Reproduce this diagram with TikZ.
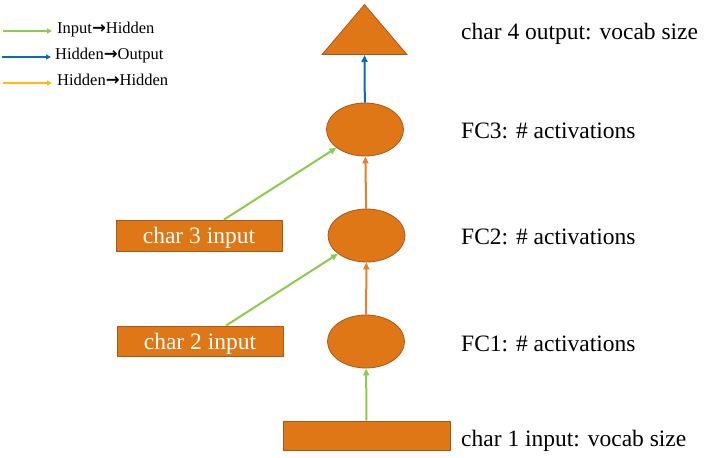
\documentclass[tikz,border=0pt]{standalone}
\usepackage{fontspec}
\setmainfont{Liberation Serif}
\newfontfamily\arrowfont{DejaVu Sans}
\usetikzlibrary{shapes.geometric,arrows.meta}
\definecolor{unitorange}{HTML}{E07716}
\definecolor{unitedge}{HTML}{A9581C}
\definecolor{inhid}{HTML}{8CCB4E}
\definecolor{hidout}{HTML}{0A6BBE}
\definecolor{hidhid}{HTML}{EB7D2E}
\definecolor{hidkey}{HTML}{FFBC0A}
\newcommand{\keyarrow}{{\arrowfont\bfseries →}}
\pgfdeclarelayer{bg}
\pgfsetlayers{bg,main}
\tikzset{
  unit/.style={ellipse, fill=unitorange, draw=unitedge, line width=0.8pt,
    minimum width=77pt, minimum height=53pt, inner sep=0pt},
  inbox/.style={rectangle, fill=unitorange, draw=unitedge, line width=0.8pt,
    minimum width=166pt, minimum height=30pt, inner sep=0pt, text=white,
    text depth=0pt, font=\fontsize{23.5pt}{26pt}\selectfont},
  outtri/.style={isosceles triangle, shape border rotate=90, isosceles triangle stretches,
    fill=unitorange, draw=unitedge, line width=0.8pt,
    minimum width=85pt, minimum height=50pt, inner sep=0pt},
  lab/.style={anchor=west, inner sep=0pt, font=\fontsize{23.5pt}{26pt}\selectfont},
  keylab/.style={anchor=base west, inner sep=0pt, font=\fontsize{16.5pt}{18pt}\selectfont},
  tip/.style={-{Triangle[length=7pt,width=6pt]}, line width=2pt},
  keytip/.style={-{Triangle[length=5pt,width=5pt]}, line width=1.8pt}
}
\begin{document}
\begin{tikzpicture}[x=1pt,y=-1pt]
        \useasboundingbox (0,0) rectangle (713,458);
        % legend
        \coordinate (k1a) at (3,31);
        \coordinate (k1b) at (52,31);
        \coordinate (k2a) at (2,57);
        \coordinate (k2b) at (51,57);
        \coordinate (k3a) at (3,83);
        \coordinate (k3b) at (52,83);
        \node (k1) [keylab] at (57,33) {Input\keyarrow Hidden};
        \node (k2) [keylab] at (55,59) {Hidden\keyarrow Output};
        \node (k3) [keylab] at (57,85) {Hidden\keyarrow Hidden};
        % network
        \node (c1) [inbox, minimum width=167pt, minimum height=29pt] at (366.5,435.5) {};
        \node (c2) [inbox] at (200,341) {char 2 input};
        \node (c3) [inbox, minimum height=31pt] at (199,235.5) {char 3 input};
        \node (fc1) [unit] at (366,341.5) {};
        \node (fc2) [unit] at (366.5,235.5) {};
        \node (fc3) [unit] at (365,129.5) {};
        \node (out) [outtri, anchor=south] at (364.5,55) {};
        % labels
        \node (tout) [lab] at (461,34) {char 4 output: vocab size};
        \node (tfc3) [lab] at (461,131) {FC3: \# activations};
        \node (tfc2) [lab] at (461,237) {FC2: \# activations};
        \node (tfc1) [lab] at (461,344) {FC1: \# activations};
        \node (tc1) [lab] at (461,441) {char 1 input: vocab size};
        \begin{pgfonlayer}{bg}
                \draw (k1a) edge [keytip, inhid] (k1b);
                \draw (k2a) edge [keytip, hidout] (k2b);
                \draw (k3a) edge [keytip, hidkey] (k3b);
                \draw (c1) edge [tip, inhid] (fc1);
                \draw ([xshift=26pt]c2.north) edge [tip, inhid] (fc2);
                \draw ([xshift=25pt]c3.north) edge [tip, inhid] (fc3);
                \draw (fc1) edge [tip, hidhid] (fc2);
                \draw (fc2) edge [tip, hidhid] (fc3);
                \draw (fc3) edge [tip, hidout] (out.south);
        \end{pgfonlayer}
\end{tikzpicture}
\end{document}
